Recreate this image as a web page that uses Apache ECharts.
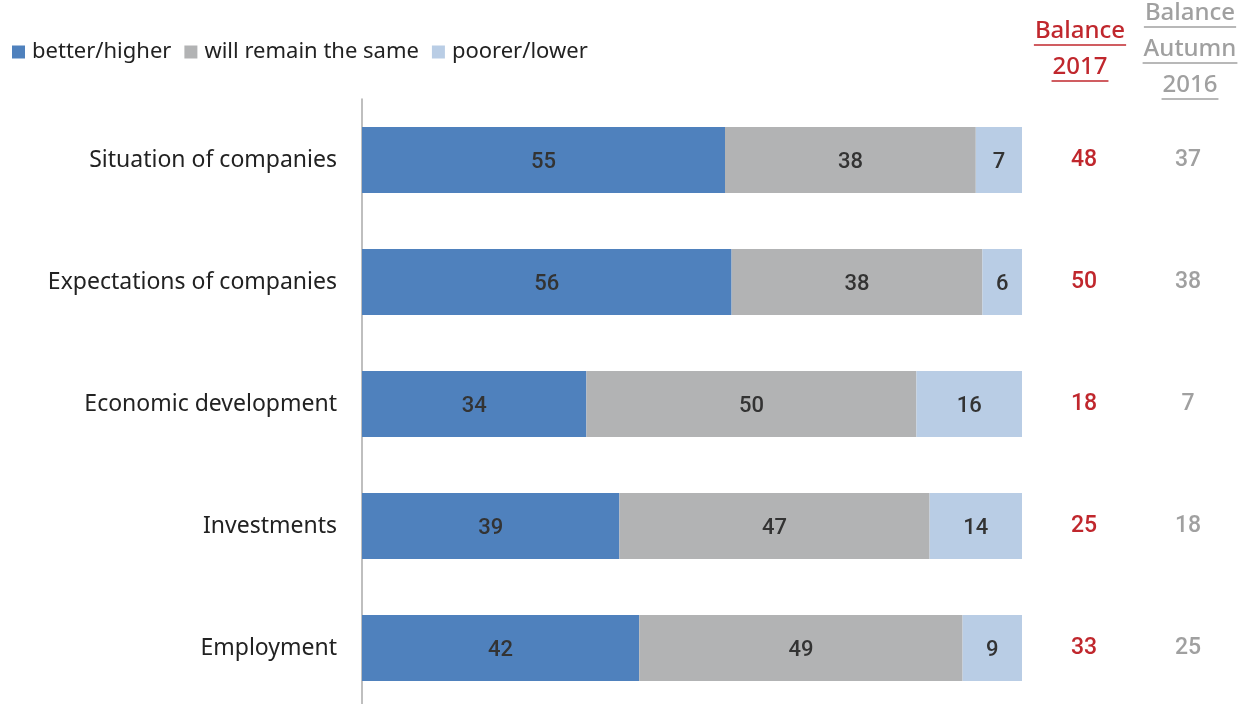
<!DOCTYPE html>
<html><head><meta charset="utf-8">
<script src="https://cdn.jsdelivr.net/npm/echarts@6/dist/echarts.min.js"></script>
<style>html,body{margin:0;padding:0;background:#fff}#c{width:1241px;height:704px}</style>
</head><body><div id="c"></div>
<script>
const categories = ['Situation of companies','Expectations of companies','Economic development','Investments','Employment'];
const better = [55,56,34,39,42];
const same = [38,38,50,47,49];
const poorer = [7,6,16,14,9];
const balance2017 = [48,50,18,25,33];
const balance2016 = [37,38,7,18,25];
const seriesNames = ['better/higher','will remain the same','poorer/lower'];
const header2017 = ['Balance','2017'];
const header2016 = ['Balance','Autumn','2016'];

const FONT = '"Noto Sans"';
const NUMFONT = 'Roboto';
const chart = echarts.init(document.getElementById('c'));
const colors = ['#4f81bd','#b2b3b4','#b9cde5'];

function textWidth(t, size, weight){
  const c = document.createElement('canvas').getContext('2d');
  c.font = weight + ' ' + size + 'px ' + FONT;
  return c.measureText(t).width;
}
const graphics = [];
function header(lines, cx, y0, step, color){
  lines.forEach((t,i)=>{
    const y = y0 + i*step;
    graphics.push({type:'text', x:cx, y:y, style:{text:t, x:0, y:0, fill:color, font:'500 24px ' + FONT, textAlign:'center', textVerticalAlign:'middle'}});
    const w = textWidth(t,24,'500');
    graphics.push({type:'line', shape:{x1:cx-w/2-1, y1:y+14, x2:cx+w/2+1, y2:y+14}, style:{stroke:color, lineWidth:1.6}});
  });
}
header(header2017, 1080, 31, 36, '#c0272d');
header(header2016, 1190, 13, 36, '#a0a0a0');

const labelStyle = {show:true, position:'inside', color:'#333', fontSize:22, fontWeight:500, fontFamily:NUMFONT, offset:[0,2]};
chart.setOption({
  animation:false,
  color: colors,
  textStyle:{fontFamily:FONT},
  legend:{left:7, top:36, icon:'rect', itemWidth:13, itemHeight:13, itemGap:13,
    textStyle:{fontSize:22, color:'#222', fontFamily:FONT, padding:[0,0,0,2]}, data:seriesNames},
  grid:{left:362, right:219, top:99, height:610, containLabel:false, outerBoundsMode:'none'},
  xAxis:{type:'value', min:0, max:100, show:false},
  yAxis:[
    {type:'category', data:categories, inverse:true, axisLine:{lineStyle:{color:'#aaa', width:1.5}}, axisTick:{show:false},
     axisLabel:{fontSize:23, color:'#222', margin:25, fontFamily:FONT, padding:[3,0,0,0]}},
    {type:'category', data:balance2017.map(String), inverse:true, position:'right', axisLine:{show:false}, axisTick:{show:false},
     axisLabel:{fontSize:23, color:'#c0272d', fontWeight:500, align:'center', margin:62, fontFamily:NUMFONT, padding:[3,0,0,0]}},
    {type:'category', data:balance2016.map(String), inverse:true, position:'right', axisLine:{show:false}, axisTick:{show:false},
     axisLabel:{fontSize:23, color:'#a0a0a0', fontWeight:500, align:'center', margin:166, fontFamily:NUMFONT, padding:[3,0,0,0]}}
  ],
  series:[
    {name:seriesNames[0], type:'bar', stack:'s', data:better, barWidth:66, label:labelStyle},
    {name:seriesNames[1], type:'bar', stack:'s', data:same, barWidth:66, label:labelStyle},
    {name:seriesNames[2], type:'bar', stack:'s', data:poorer, barWidth:66, label:labelStyle}
  ],
  graphic: graphics
});
</script></body></html>
